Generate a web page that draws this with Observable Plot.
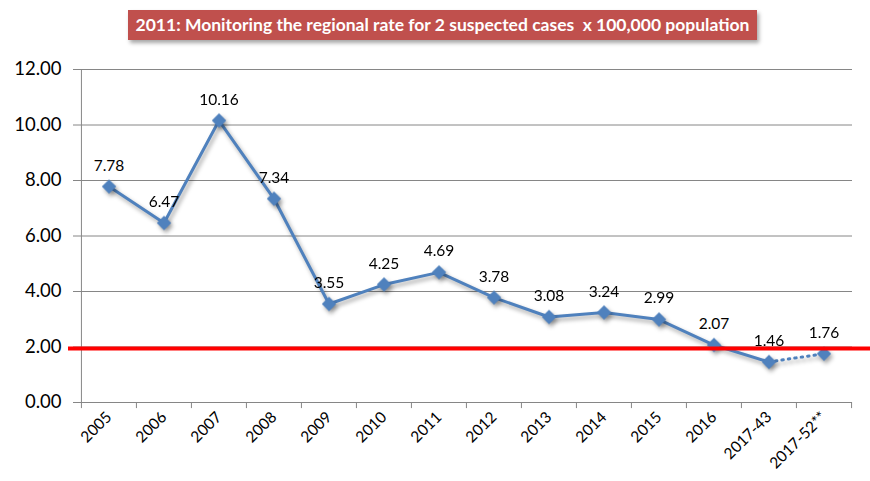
<!DOCTYPE html>
<html>
<head>
<meta charset="utf-8">
<script src="https://cdn.jsdelivr.net/npm/d3@7"></script>
<script src="https://cdn.jsdelivr.net/npm/@observablehq/plot@0.6"></script>
<style>
  body { margin: 0; background: #fff; font-family: Lato, "Open Sans", sans-serif; }
  #wrap { width: 870px; height: 481px; position: relative; overflow: hidden; }
  #head { height: 50px; position: relative; }
  #title {
    position: absolute; left: 128px; top: 10px; width: 629px; height: 30px;
    background: #C0504D; color: #fff; font-weight: bold; font-size: 17.5px;
    line-height: 30px; text-align: center; box-shadow: 2px 3px 4px rgba(0,0,0,0.35);
    font-family: Lato, "Open Sans", sans-serif; white-space: nowrap;
  }
  #chart g[aria-label="line"], #chart g[aria-label="dot"] {
    filter: drop-shadow(2px 3px 2px rgba(0,0,0,0.35));
  }
</style>
</head>
<body>
<div id="wrap">
  <div id="head"><div id="title">2011: Monitoring the regional rate for 2 suspected cases&nbsp; x 100,000 population</div></div>
  <div id="chart"></div>
</div>
<script>
const categories = ["2005","2006","2007","2008","2009","2010","2011","2012","2013","2014","2015","2016","2017-43","2017-52**"];
const rates = [7.78, 6.47, 10.16, 7.34, 3.55, 4.25, 4.69, 3.78, 3.08, 3.24, 2.99, 2.07, 1.46, 1.76];
const rateLabels = ["7.78","6.47","10.16","7.34","3.55","4.25","4.69","3.78","3.08","3.24","2.99","2.07","1.46","1.76"];
const yTicks = [0, 2, 4, 6, 8, 10, 12];
const threshold = 1.95;

const W = 870, H = 431, ML = 80, MR = 18, MT = 19, MB = 79;
const bw = (W - ML - MR) / categories.length;

const data = categories.map((c, i) => ({cat: c, rate: rates[i], label: rateLabels[i]}));
const solid = data.slice(0, 13);
const dotted = data.slice(12);
const blue = "#4F81BD";
const grid = "#868686";

const chart = Plot.plot({
  width: W, height: H,
  marginLeft: ML, marginRight: MR, marginTop: MT, marginBottom: MB,
  style: {fontFamily: "Lato, 'Open Sans', sans-serif", color: "#000", background: "transparent"},
  x: {type: "band", domain: categories, padding: 0, label: null},
  y: {domain: [0, 12], label: null},
  marks: [
    Plot.gridY(yTicks, {stroke: grid, strokeOpacity: 1}),
    Plot.axisY(yTicks, {tickSize: 7, tickPadding: 12, fontSize: 18.5, stroke: grid, tickFormat: d3.format(".2f"), label: null}),
    Plot.ruleX([categories[0]], {y1: 0, y2: 12, stroke: grid, dx: -bw / 2}),
    Plot.ruleX(categories, {y1: 0, y2: -0.22, stroke: grid, dx: -bw / 2}),
    Plot.ruleX([categories[categories.length - 1]], {y1: 0, y2: -0.22, stroke: grid, dx: bw / 2}),
    Plot.axisX({tickSize: 0, tickPadding: 12, tickRotate: -45, fontSize: 15.5, label: null}),
    Plot.line(solid, {x: "cat", y: "rate", stroke: blue, strokeWidth: 3, strokeLinejoin: "round"}),
    Plot.line(dotted, {x: "cat", y: "rate", stroke: blue, strokeWidth: 3, strokeDasharray: "1.5,5", strokeLinecap: "round"}),
    Plot.dot(data, {x: "cat", y: "rate", symbol: "diamond2", r: 6.5, fill: blue}),
    Plot.ruleY([threshold], {stroke: "#FF0000", strokeWidth: 4, insetLeft: -12, insetRight: -18}),
    Plot.text(data, {x: "cat", y: "rate", text: "label", dy: -21, fontSize: 15.5, fill: "#000"})
  ]
});
document.getElementById("chart").appendChild(chart);
</script>
</body>
</html>
